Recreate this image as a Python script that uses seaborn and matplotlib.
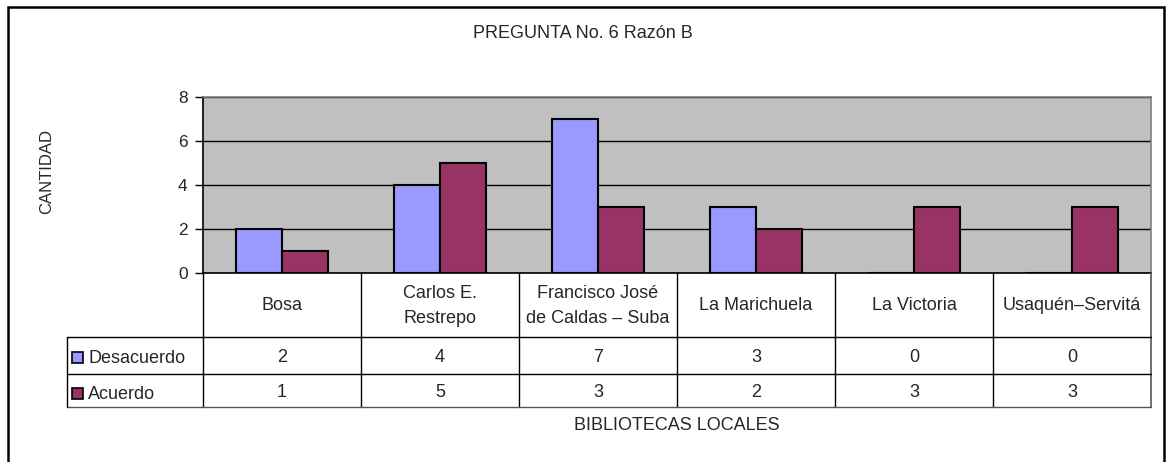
import pandas as pd
import seaborn as sns
import matplotlib.pyplot as plt
from matplotlib.patches import Rectangle
from matplotlib.lines import Line2D
from matplotlib.transforms import blended_transform_factory

# datos
bibliotecas = ["Bosa", "Carlos E.\nRestrepo", "Francisco José\nde Caldas – Suba",
               "La Marichuela", "La Victoria", "Usaquén–Servitá"]
desacuerdo = [2, 4, 7, 3, 0, 0]
acuerdo = [1, 5, 3, 2, 3, 3]
series = ["Desacuerdo", "Acuerdo"]
colores = ["#9999FF", "#993366"]
yticks = [0, 2, 4, 6, 8]

W, H = 1166, 462
FS = 13
sns.set_style("white")
plt.rcParams["font.family"] = ["Liberation Sans", "DejaVu Sans"]
plt.rcParams["font.size"] = FS

df = pd.DataFrame({
    "biblioteca": bibliotecas * 2,
    "serie": [series[0]] * len(bibliotecas) + [series[1]] * len(bibliotecas),
    "cantidad": desacuerdo + acuerdo,
})


def fx(px):
    return px / W


def fy(py):
    return 1 - py / H


fig = plt.figure(figsize=(W / 100, H / 100), dpi=100)
ax = fig.add_axes([fx(203), fy(273), fx(1151) - fx(203), fy(97) - fy(273)])

sns.barplot(data=df, x="biblioteca", y="cantidad", hue="serie", hue_order=series,
            palette=colores, width=0.585, gap=0, edgecolor="black", linewidth=1.5,
            saturation=1, ax=ax, legend=False)

ax.set_facecolor("#C0C0C0")
ax.set_ylim(0, 8)
ax.set_xlim(-0.5, len(bibliotecas) - 0.5)
ax.set_yticks(yticks)
ax.yaxis.grid(True, color="black", linewidth=1)
ax.set_axisbelow(True)
ax.set_xticks([])
ax.set_xlabel("")
ax.set_ylabel("")
ax.tick_params(axis="y", length=6, width=1, color="black", left=True, labelsize=12.5, pad=5)
ax.spines["top"].set_color("#808080")
ax.spines["right"].set_color("#808080")
ax.spines["left"].set_color("black")
ax.spines["bottom"].set_color("black")
for s in ax.spines.values():
    s.set_linewidth(1.2)
    s.set_zorder(3)

# tabla de datos bajo el grafico
trans = blended_transform_factory(ax.transData, fig.transFigure)
n = len(bibliotecas)
for i in range(n + 1):
    fig.add_artist(Line2D([i - 0.5, i - 0.5], [fy(273), fy(407)], transform=trans,
                          color="#555555" if i == n else "black", lw=1.2 if i == n else 1))
for yy in [337, 374, 407]:
    fig.add_artist(Line2D([fx(67), fx(1151)], [fy(yy), fy(yy)], transform=fig.transFigure,
                          color="#555555" if yy == 407 else "black", lw=1))
fig.add_artist(Line2D([fx(67), fx(67)], [fy(337), fy(407)], transform=fig.transFigure,
                      color="black", lw=1))

for i, nombre in enumerate(bibliotecas):
    fig.text(i, fy(306), nombre, transform=trans, ha="center", va="center",
             fontsize=FS, linespacing=1.65)
    fig.text(i, fy(357.5), str(desacuerdo[i]), transform=trans, ha="center", va="center", fontsize=FS)
    fig.text(i, fy(392.5), str(acuerdo[i]), transform=trans, ha="center", va="center", fontsize=FS)

for nombre, color, yy in zip(series, colores, [357, 393]):
    fig.add_artist(Rectangle((fx(72), fy(yy + 5.5)), fx(11), 11 / H, transform=fig.transFigure,
                             facecolor=color, edgecolor="black", lw=1.2))
    fig.text(fx(88), fy(yy + 1.5), nombre, ha="left", va="center", fontsize=FS)

fig.text(0.5, fy(33), "PREGUNTA No. 6 Razón B", ha="center", va="center", fontsize=FS)
fig.text(0.5, fy(426), "BIBLIOTECAS LOCALES",
         transform=blended_transform_factory(ax.transAxes, fig.transFigure),
         ha="center", va="center", fontsize=FS)
fig.text(fx(47), fy(172), "CANTIDAD", rotation=90, ha="center", va="center", fontsize=12)

# marco exterior
fig.add_artist(Rectangle((fx(8), fy(475)), fx(1164) - fx(8), fy(7) - fy(475),
                         transform=fig.transFigure, fill=False, edgecolor="black", lw=1.8))

plt.savefig("out.png", dpi=100)
plt.close()
